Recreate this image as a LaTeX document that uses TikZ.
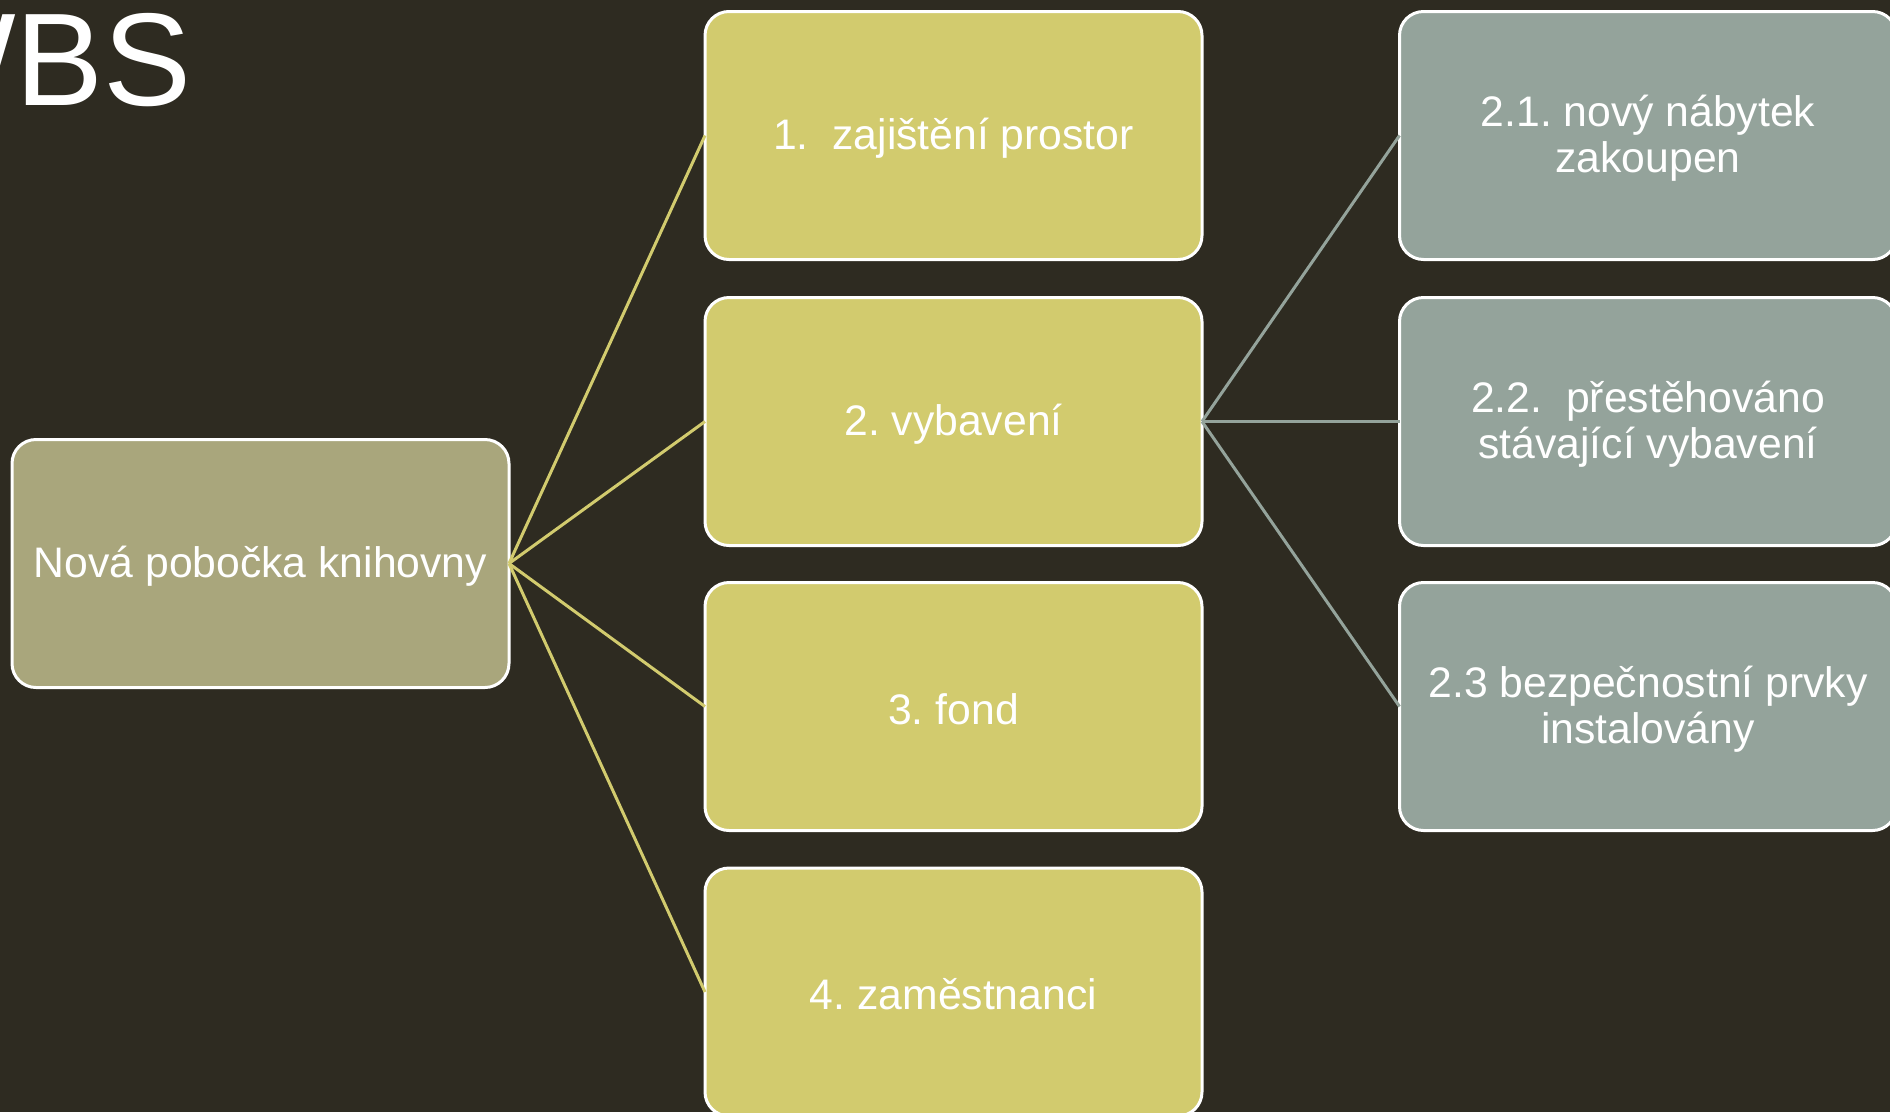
\documentclass[tikz,border=0pt]{standalone}
\usepackage{fontspec}
\setmainfont{Liberation Sans}
\definecolor{bgdark}{HTML}{2E2B21}
\definecolor{rootfill}{HTML}{A9A67C}
\definecolor{mainfill}{HTML}{D2CB6E}
\definecolor{subfill}{HTML}{94A39B}
\frenchspacing
\begin{document}
\begin{tikzpicture}[x=1pt,y=-1pt,
  wbsbox/.style={draw=white, line width=3pt, rounded corners=24pt,
    minimum width=497pt, minimum height=248pt, inner sep=0pt,
    label={[wbstext]center:#1}},
  wbstext/.style={align=center, text=white, inner sep=0pt, yshift=-2.5pt,
    font=\fontsize{42.7}{46}\selectfont},
  rootbox/.style={wbsbox={#1}, fill=rootfill},
  mainbox/.style={wbsbox={#1}, fill=mainfill},
  subbox/.style={wbsbox={#1}, fill=subfill},
  mainlink/.style={draw=mainfill, line width=3pt},
  sublink/.style={draw=subfill, line width=3pt}]
  \useasboundingbox (0,0) rectangle (1890,1112);
  \clip (0,0) rectangle (1890,1112);
  \fill[bgdark] (0,0) rectangle (1890,1112);

  % slide title, running off the left edge
  \node[anchor=base east, inner sep=0pt, text=white,
        font=\fontsize{132}{132}\selectfont] (title) at (192,105) {WBS};

  % root
  \node[rootbox={Nová pobočka knihovny}] (root) at (260.5,563.5) {};

  % level 1
  \node[mainbox={1.\ \ zajištění prostor}] (m1) at (953.5,135.5) {};
  \node[mainbox={2. vybavení}] (m2) at (953.5,421.5) {};
  \node[mainbox={3. fond}] (m3) at (953.5,706.5) {};
  \node[mainbox={4. zaměstnanci}] (m4) at (953.5,992) {};

  % level 2 under "vybavení"
  \node[subbox={2.1. nový nábytek\\zakoupen}] (s1) at (1648,135.5) {};
  \node[subbox={2.2.\ \ přestěhováno\\stávající vybavení}] (s2) at (1648,421.5) {};
  \node[subbox={2.3 bezpečnostní prvky\\instalovány}] (s3) at (1648,706.5) {};

  % connectors
  \foreach \t in {m1,m2,m3,m4}
    \draw[mainlink] ([xshift=-1.5pt]root.east) -- ([xshift=1.5pt]\t.west);
  \foreach \t in {s1,s2,s3}
    \draw[sublink] ([xshift=-1.5pt]m2.east) -- ([xshift=1.5pt]\t.west);
\end{tikzpicture}
\end{document}
